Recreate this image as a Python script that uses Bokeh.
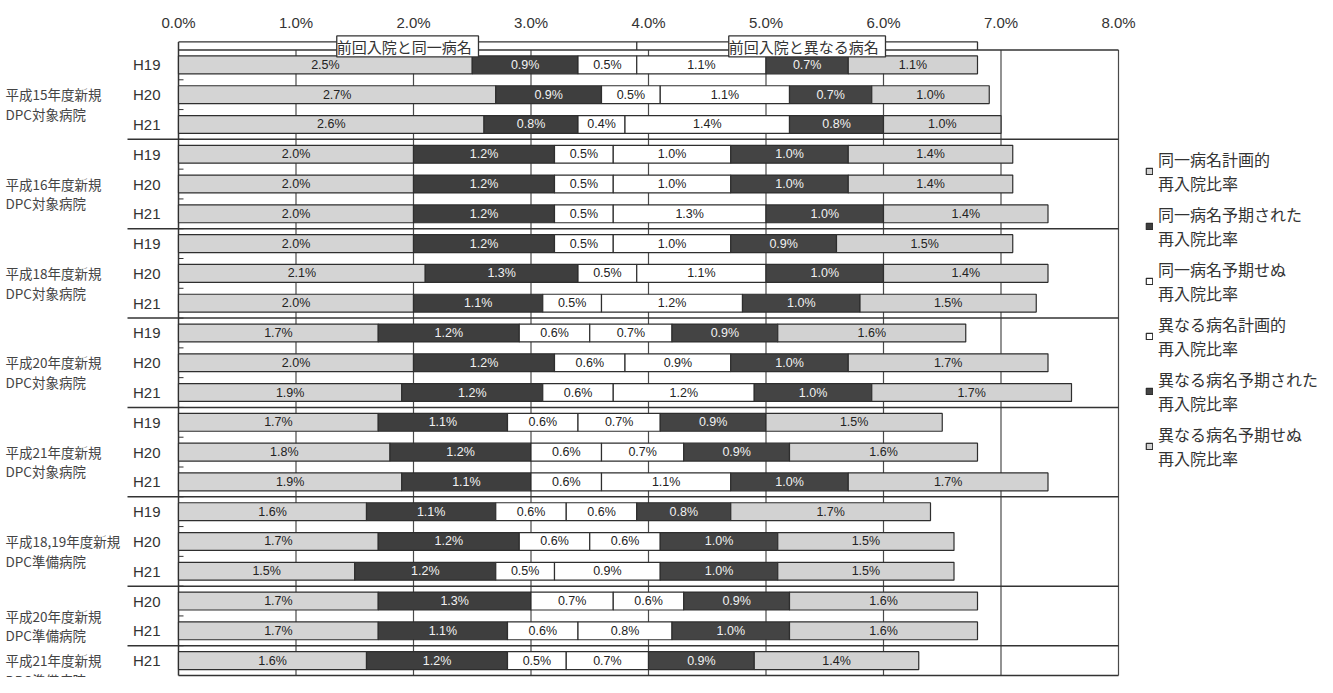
import math
from bokeh.plotting import figure
from bokeh.models import (ColumnDataSource, FixedTicker, PrintfTickFormatter, Label,
                          Legend, LegendItem, Range1d)
from bokeh.embed import file_html
from bokeh.resources import INLINE
from bokeh.core.properties import value

# ---------------- data ----------------
groups = ["平成15年度新規\nDPC対象病院", "平成16年度新規\nDPC対象病院", "平成18年度新規\nDPC対象病院",
          "平成20年度新規\nDPC対象病院", "平成21年度新規\nDPC対象病院", "平成18,19年度新規\nDPC準備病院",
          "平成20年度新規\nDPC準備病院", "平成21年度新規\nDPC準備病院"]
group_years = [["H19", "H20", "H21"], ["H19", "H20", "H21"], ["H19", "H20", "H21"],
               ["H19", "H20", "H21"], ["H19", "H20", "H21"], ["H19", "H20", "H21"],
               ["H20", "H21"], ["H21"]]

series_names = ["同一病名計画的\n再入院比率", "同一病名予期された\n再入院比率", "同一病名予期せぬ\n再入院比率",
                "異なる病名計画的\n再入院比率", "異なる病名予期された\n再入院比率", "異なる病名予期せぬ\n再入院比率"]

same_planned    = [2.5, 2.7, 2.6, 2.0, 2.0, 2.0, 2.0, 2.1, 2.0, 1.7, 2.0, 1.9, 1.7, 1.8, 1.9, 1.6, 1.7, 1.5, 1.7, 1.7, 1.6]
same_expected   = [0.9, 0.9, 0.8, 1.2, 1.2, 1.2, 1.2, 1.3, 1.1, 1.2, 1.2, 1.2, 1.1, 1.2, 1.1, 1.1, 1.2, 1.2, 1.3, 1.1, 1.2]
same_unexpected = [0.5, 0.5, 0.4, 0.5, 0.5, 0.5, 0.5, 0.5, 0.5, 0.6, 0.6, 0.6, 0.6, 0.6, 0.6, 0.6, 0.6, 0.5, 0.7, 0.6, 0.5]
diff_planned    = [1.1, 1.1, 1.4, 1.0, 1.0, 1.3, 1.0, 1.1, 1.2, 0.7, 0.9, 1.2, 0.7, 0.7, 1.1, 0.6, 0.6, 0.9, 0.6, 0.8, 0.7]
diff_expected   = [0.7, 0.7, 0.8, 1.0, 1.0, 1.0, 0.9, 1.0, 1.0, 0.9, 1.0, 1.0, 0.9, 0.9, 1.0, 0.8, 1.0, 1.0, 0.9, 1.0, 0.9]
diff_unexpected = [1.1, 1.0, 1.0, 1.4, 1.4, 1.4, 1.5, 1.4, 1.5, 1.6, 1.7, 1.7, 1.5, 1.6, 1.7, 1.7, 1.5, 1.5, 1.6, 1.6, 1.4]

x_ticks = [0, 1, 2, 3, 4, 5, 6, 7, 8]
bracket_labels = ["前回入院と同一病名", "前回入院と異なる病名"]

series = [same_planned, same_expected, same_unexpected, diff_planned, diff_expected, diff_unexpected]

# ---------------- styles ----------------
fills = ["#d4d4d4", "#3e3e3e", "#ffffff", "#ffffff", "#444444", "#d2d2d2"]
label_colors = ["#222222", "#f2f2f2", "#222222", "#222222", "#f2f2f2", "#222222"]
LATIN = "Liberation Sans"
CJK = "Noto Sans CJK JP"
INK = "#333333"

# ---------------- rows ----------------
row_labels, group_centers, boundaries = [], [], []
i = 0
for yrs in group_years:
    start = i
    for yr in yrs:
        row_labels.append(yr)
        i += 1
    group_centers.append((start + i) / 2)
    boundaries.append(i)
n = len(row_labels)
row_y = [k + 0.5 for k in range(n)]

# ---------------- figure (frame spans the whole canvas width) ----------------
W, H = 1317, 677
PPU = 117.5            # pixels per 1.0 %
AXIS_PX = 178          # pixel position of 0.0 % inside the canvas
TOP_EXT = 0.554
BOT_EXT = 0.067
p = figure(width=W, height=H,
           x_range=Range1d(-AXIS_PX / PPU, (W - AXIS_PX) / PPU),
           y_range=Range1d(n + BOT_EXT, -TOP_EXT),
           x_axis_location="above", y_axis_location=None,
           output_backend="svg", toolbar_location=None,
           min_border_left=0, min_border_right=0, min_border_top=33, min_border_bottom=0)
p.outline_line_color = None
p.xgrid.visible = False
p.ygrid.visible = False
p.background_fill_color = "white"
p.border_fill_color = "white"

yb = -0.27   # bracket line level

# grid lines, frame box, group separators
p.segment(x0=x_ticks[1:], y0=0, x1=x_ticks[1:], y1=n, line_color="#4a4a4a", line_width=1.2)
p.segment(x0=0, y0=[0, n], x1=x_ticks[-1], y1=[0, n], line_color=INK, line_width=1.5)
p.segment(x0=0, y0=yb, x1=0, y1=n, line_color=INK, line_width=1.5)
p.segment(x0=0, y0=boundaries[:-1], x1=x_ticks[-1], y1=boundaries[:-1], line_color=INK, line_width=1.5)
p.ray(x=0, y=boundaries[:-1], length=51, length_units="screen", angle=math.pi,
      line_color=INK, line_width=1.5)
p.ray(x=0, y=[float(b) for b in range(1, n)], length=5, length_units="screen", angle=0,
      line_color=INK, line_width=1)

# bars
src = ColumnDataSource({f"s{k}": s for k, s in enumerate(series)} | {"y": row_y})
keys = [f"s{k}" for k in range(len(series))]
renderers = p.hbar_stack(keys, y="y", height=0.6, source=src, fill_color=fills,
                         line_color="#2e2e2e", line_width=1.2)

# value labels
lx, ly, lt, lc = [], [], [], []
for r in range(n):
    cum = 0.0
    for k, s in enumerate(series):
        v = s[r]
        lx.append(cum + v / 2)
        ly.append(row_y[r])
        lt.append(f"{v:.1f}%")
        lc.append(label_colors[k])
        cum += v
p.text(x="x", y="y", text="t", text_color="c",
       source=ColumnDataSource(dict(x=lx, y=ly, t=lt, c=lc)),
       text_align="center", text_baseline="middle",
       text_font=value(LATIN), text_font_size="12.5px")

# row (year) labels and group labels at the left of 0 %
p.text(x=0, y=row_y, text=row_labels, x_offset=-18, text_align="right", text_baseline="middle",
       text_font=value(LATIN), text_font_size="15px", text_color=INK)
p.text(x=0, y=[g + 0.32 for g in group_centers], text=groups, x_offset=-173,
       text_align="left", text_baseline="middle", text_font=value(CJK),
       text_font_size="13.5px", text_color="#444444", text_line_height=0.98)

# brackets on top (tied to the first row's segments)
b0 = 0.0
b1 = sum(s[0] for s in series[:3])
b2 = sum(s[0] for s in series)
p.multi_line(xs=[[b0, b1, b1], [b1, b2, b2]], ys=[[yb, yb, 0], [yb, yb, 0]],
             line_color=INK, line_width=1.3)
for (xa, xb), txt in zip([(b0, b1), (b1, b2)], bracket_labels):
    p.add_layout(Label(x=(xa + xb) / 2, y=-0.12, text=" " + txt + " ", text_align="center",
                       text_baseline="middle", text_font=CJK, text_font_size="15px",
                       text_color=INK, border_line_color=INK, border_line_width=1.3,
                       background_fill_color="white"))

# x axis
xa = p.xaxis[0]
xa.ticker = FixedTicker(ticks=x_ticks)
xa.formatter = PrintfTickFormatter(format="%.1f%%")
xa.axis_line_color = None
xa.major_tick_line_color = None
xa.minor_tick_line_color = None
xa.major_tick_out = 0
xa.minor_tick_out = 0
xa.major_label_text_font = LATIN
xa.major_label_text_font_size = "15px"
xa.major_label_text_color = INK
xa.major_label_standoff = 3

# legend
items = [LegendItem(label=name, renderers=[r]) for name, r in zip(series_names, renderers)]
legend = Legend(items=items, location=(1145, 207), glyph_width=8, glyph_height=8,
                label_standoff=5, spacing=7, padding=0, margin=0,
                border_line_color=None, background_fill_alpha=0,
                label_text_font=CJK, label_text_font_size="16px",
                label_text_line_height=1.3, label_text_color=INK)
p.add_layout(legend, "center")

open("out.html", "w").write(file_html(p, INLINE))
